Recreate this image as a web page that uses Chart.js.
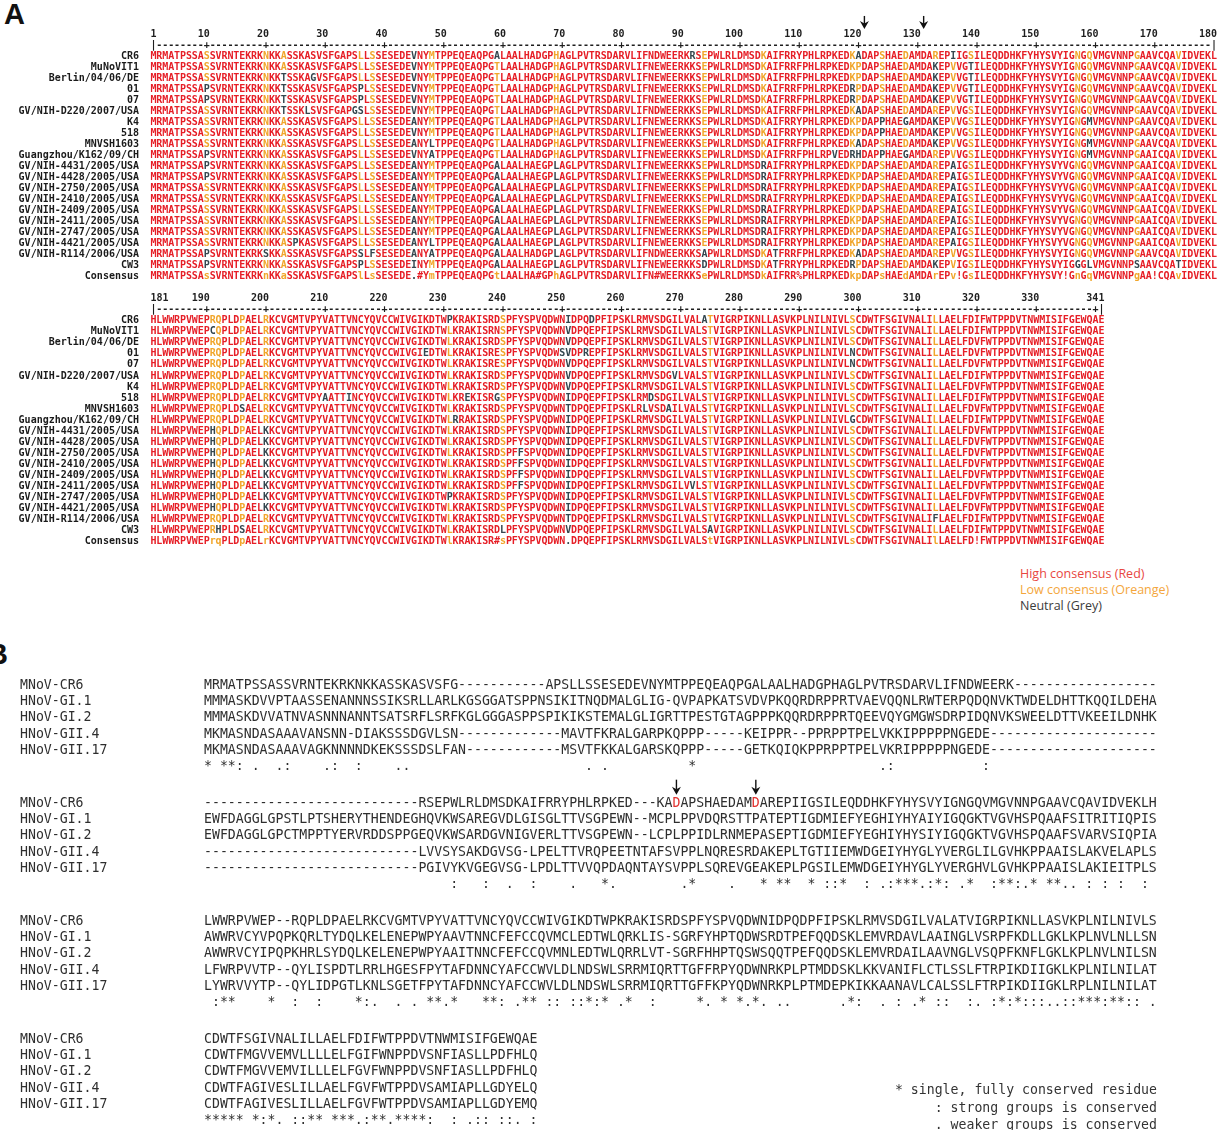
<!DOCTYPE html>
<html lang="en">
<head>
<meta charset="utf-8">
<title>NS1/2 alignment</title>
<script src="https://cdn.jsdelivr.net/npm/chart.js@4.4.1/dist/chart.umd.min.js"></script>
<style>
  html, body { margin: 0; padding: 0; background: #fff; }
  body { position: relative; width: 1225px; height: 1130px; overflow: hidden; }
  canvas { position: absolute; left: 0; }
  .panel { position: absolute; font: bold 29px "Liberation Sans", Arial, sans-serif; line-height: 29px; color: #111; }
  #legendA { position: absolute; left: 1020px; top: 566px; font: 12.5px "Open Sans", sans-serif; line-height: 16px; white-space: nowrap; }
  #legendB { position: absolute; right: 68px; top: 1081px; font: 13.2px "DejaVu Sans Mono", monospace; line-height: 17.5px; color: #333; text-align: right; white-space: pre; }
</style>
</head>
<body>
<div class="panel" style="left:4px;top:0">A</div>
<canvas id="alignA" width="1225" height="560" style="top:0"></canvas>
<div id="legendA">
  <div style="color:#e8473f">High consensus (Red)</div>
  <div style="color:#f4a63c">Low consensus (Oreange)</div>
  <div style="color:#3c3c3c">Neutral (Grey)</div>
</div>
<div class="panel" style="left:-13px;top:640px">B</div>
<canvas id="blockB0" width="1225" height="130"></canvas>
<canvas id="blockB1" width="1225" height="130"></canvas>
<canvas id="blockB2" width="1225" height="130"></canvas>
<canvas id="blockB3" width="1225" height="130"></canvas>
<div id="legendB">* single, fully conserved residue
: strong groups is conserved
. weaker groups is conserved</div>

<script>
// ---------- Panel A data (MultAlin, positions 1-180 and 181-341) ----------
const namesA = ['CR6', 'MuNoVIT1', 'Berlin/04/06/DE', '01', '07', 'GV/NIH-D220/2007/USA', 'K4', '518',
  'MNVSH1603', 'Guangzhou/K162/09/CH', 'GV/NIH-4431/2005/USA', 'GV/NIH-4428/2005/USA',
  'GV/NIH-2750/2005/USA', 'GV/NIH-2410/2005/USA', 'GV/NIH-2409/2005/USA', 'GV/NIH-2411/2005/USA',
  'GV/NIH-2747/2005/USA', 'GV/NIH-4421/2005/USA', 'GV/NIH-R114/2006/USA', 'CW3', 'Consensus'];

const seqA = [
  ['MRMATPSSAS SVRNTEKRKN KKASSKASVS FGAPSLLSSE SEDEVNYMTP PEQEAQPGAL AALHADGPHA GLPVTRSDAR VLIFNDWEER KRSEPWLRLD MSDKAIFRRY PHLRPKEDKA DAPSHAEDAM DAREPIIGSI LEQDDHKFYH YSVYIGNGQV MGVNNPGAAV CQAVIDVEKL',
   'HLWWRPVWEP RQPLDPAELR KCVGMTVPYV ATTVNCYQVC CWIVGIKDTW PKRAKISRDS PFYSPVQDWN IDPQDPFIPS KLRMVSDGIL VALATVIGRP IKNLLASVKP LNILNIVLSC DWTFSGIVNA LILLAELFDI FWTPPDVTNW MISIFGEWQA E'],
  ['MRMATPSSAS SVRNTEKRKN KKASSKASVS FGAPSLLSSE SEDEVNYMTP PEQEAQPGTL AALHADGPHA GLPVTRSDAR VLIFNEWEER KKSEPWLRLD MSDKAIFRRF PHLRPKEDKP DAPSHAEDAM DAKEPVVGTI LEQDDHKFYH YSVYIGNGQV MGVNNPGAAV CQAVIDVEKL',
   'HLWWRPVWEP CQPLDPAELR KCVGMTVPYV ATTVNCYQVC CWIVGIKDTW LKRAKISRNS PFYSPVQDWN VDPQEPFIPS KLRMVSDGIL VALSTVIGRP IKNLLASVKP LNILNIVLSC DWTFSGIVNA LILLAELFDI FWTPPDVTNW MISIFGEWQA E'],
  ['MRMATPSSAS SVRNTEKRKN KKTSSKAGVS FGAPSLLSSE SEDEVNYMTP PEQEAQPGTL AALHADGPHA GLPVTRSDAR VLIFNEWEER KKSEPWLRLD MSDKAIFRRF PHLRPKEDKP DAPSHAEDAM DAKEPVVGTI LEQDDHKFYH YSVYIGNGQV MGVNNPGAAV CQAVIDVEKL',
   'HLWWRPVWEP RQPLDPAELR KCVGMTVPYV ATTVNCYQVC CWIVGIKDTW LKRAKISRDS PFYSPVQDWN VDPQEPFIPS KLRMVSDGIL VALSTVIGRP IKNLLASVKP LNILNIVLSC DWTFSGIVNA LILLAELFDV FWTPPDVTNW MISIFGEWQA E'],
  ['MRMATPSSAP SVRNTEKRKN KKTSSKASVS FGAPSPLSSE SEDEVNYMTP PEQEAQPGTL AALHADGPHA GLPVTRSDAR VLIFNEWEER KKSEPWLRLD MSDKAIFRRF PHLRPKEDRP DAPSHAEDAM DAKEPVVGTI LEQDDHKFYH YSVYIGNGQV MGVNNPGAAV CQAVIDVEKL',
   'HLWWRPVWEP RQPLDPAELR KCVGMTVPYV ATTVNCYQVC CWIVGIEDTW LKRAKISRES PFYSPVQDWS VDPREPFIPS KLRMVSDGIL VALSTVIGRP IKNLLASVKP LNILNIVLNC DWTFSGIVNA LILLAELFDV FWTPPDVTNW MISIFGEWQA E'],
  ['MRMATPSSAP SVRNTEKRKN KKTSSKASVS FGAPSPLSSE SEDEVNYMTP PEQEAQPGTL AALHADGPHA GLPVTRSDAR VLIFNEWEER KKSEPWLRLD MSDKAIFRRF PHLRPKEDRP DAPSHAEDAM DAKEPVVGTI LEQDDHKFYH YSVYIGNGQV MGVNNPGAAV CQAVIDVEKL',
   'HLWWRPVWEP RQPLDPAELR KCVGMTVPYV ATTVNCYQVC CWIVGIKDTW LKRAKISRES PFYSPVQDWN VDPQEPFIPS KLRMVSDGIL VALSTVIGRP IKNLLASVKP LNILNIVLNC DWTFSGIVNA LILLAELFDV FWTPPDVTNW MISIFGEWQA E'],
  ['MRMATPSSAS SVRNTEKRKN KKTSSKLSVS FGAPGSLSSE SEDEVNYMTP PEQEAQPGTL AALHADGPHA GLPVTRSDAR VLIFNDWEER KKSEPWLRLD MSDKAIFRRF PHLRPKEDKA DAPSHAEDAM DAREPVVGSI LEQDDHKFYH YSVYIGNGQV MGVNNPGAAV CQAVIDVEKL',
   'HLWWRPVWEP RQPLDPAELR KCVGMTVPYV ATTVNCYQVC CWIVGIKDTW LKRAKISRDS PFYSPVQDWN VDPQEPFIPS KLRMVSDGVL VALSTVIGRP IKNLLASVKP LNILNIVLSC DWTFSGIVNA LILLAELFDI FWTPPDVTNW MISIFGEWQA E'],
  ['MRMATPSSAS SVRNTEKRKN KKASSKASVS FGAPSLLSSE SEDEANYMTP PEQEAQPGTL AALHADGPHA GLPVTRSDAR VLIFNEWEER KKSEPWLRLD MSDKAIFRRY PHLRPKEDKP DAPPHAEGAM DAKEPVVGSI LEQDDHKFYH YSVYIGNGMV MGVNNPGAAV CQAVIDVEKL',
   'HLWWRPVWEP RQPLDPAELR KCVGMTVPYV ATTVNCYQVC CWIVGIKDTW LKRAKISRDS PFYSPVQDWN VDPQEPFIPS KLRMVSDGIL VALSTVIGRP IKNLLASVKP LNILNIVLSC DWTFSGIVNA LILLAELFDV FWTPPDVTNW MISIFGEWQA E'],
  ['MRMATPSSAS SVRNTEKRKN KKASSKASVS FGAPSLLSSE SEDEVNYMTP PEQEAQPGTL AALHADGPHA GLPVTRSDAR VLIFNEWEER KKSEPWLRLD MSDKAIFRRY PHLRPKEDKP DAPPHAEDAM DAKEPVVGSI LEQDDHKFYH YSVYIGNGQV MGVNNPGAAV CQAVIDVEKL',
   'HLWWRPVWEP RQPLDPAELR KCVGMTVPYA ATTINCYQVC CWIVGIKDTW LKREKISRGS PFYSPVQDWN IDPQEPFIPS KLRMDSDGIL VALSTVIGRP IKNLLASVKP LNILNIVLSC DWTFSGIVNA LILLAELFDI FWTPPDVTNW MISIFGEWQA E'],
  ['MRMATPSSAS SVRNTEKRKN KKASSKASVS FGAPSLLSSE SEDEANYLTP PEQEAQPGTL AALHADGPHA GLPVTRSDAR VLIFNEWEER KKSEPWLRLD MSDKAIFRRF PHLRPKEDKA DAPSHAEDAM DAKEPVVGSI LEQDDHKFYH YSVYIGNGMV MGVNNPGAAV CQAVIDVEKL',
   'HLWWRPVWEP RQPLDSAELR KCVGMTVPYV ATTVNCYQVC CWIVGIKDTW LKRAKISRDS PFYSPVQDWN TDPQEPFIPS KLRLVSDAIL VALSTVIGRP IKNLLASVKP LNILNIVLSC DWTFSGIVNA LILLAELFDV FWTPPDVTNW MISIFGEWQA E'],
  ['MRMATPSSAP SVRNTEKRKN KKASSKASVS FGAPSLLSSE SEDEVNYATP PEQEAQPGTL AALHADGPHA GLPVTRSDAR VLIFNEWEER KKSEPWLRLD MSDKAIFRRF PHLRPVEDRH DAPPHAEGAM DAREPVVGSI LEQDDHKFYH YSVYIGNGMV MGVNNPGAAI CQAVIDVEKL',
   'HLWWRPVWEP RQPLDPAELR KCVGMTVPYV ATTVNCYQVC CWIVGIKDTW LRRAKISRDS PFYSPVQDWN IDPQEPFIPS KLRMVSDGIL VALSTVIGRP IKNLLASVKP LNILNIVLGC DWTFSGIVNA LILLAELFDI FWTPPDVTNW MISIFGEWQA E'],
  ['MRMATPSSAP SVRNTEKRKN KKASSKASVS FGAPSLLSSE SEDEANYMTP PEQEAQPGAL AALHAEGPLA GLPVTRSDAR VLIFNEWEER KKSEPWLRLD MSDRAIFRRY PHLRPKEDKP DAPSHAEDAM DAREPAIGSI LEQDDHKFYH YSVYVGNGQV MGVNNPGAAI CQAVIDVEKL',
   'HLWWRPVWEP HQPLDPAELK KCVGMTVPYV ATTVNCYQVC CWIVGIKDTW LKRAKISRDS PFYSPVQDWN IDPQEPFIPS KLRMVSDGIL VALSTVIGRP IKNLLASVKP LNILNIVLSC DWTFSGIVNA LILLAELFDV FWTPPDVTNW MISIFGEWQA E'],
  ['MRMATPSSAP SVRNTEKRKN KKASSKASVS FGAPSLLSSE SEDEANYMTP PEQEAQPGAL AALHAEGPLA GLPVTRSDAR VLIFNEWEER KKSEPWLRLD MSDRAIFRRY PHLRPKEDKP DAPSHAEDAM DAREPAIGSI LEQDDHKFYH YSVYVGNGQV MGVNNPGAAI CQAVIDVEKL',
   'HLWWRPVWEP HQPLDPAELK KCVGMTVPYV ATTVNCYQVC CWIVGIKDTW LKRAKISRDS PFYSPVQDWN IDPQEPFIPS KLRMVSDGIL VALSTVIGRP IKNLLASVKP LNILNIVLSC DWTFSGIVNA LILLAELFDV FWTPPDVTNW MISIFGEWQA E'],
  ['MRMATPSSAS SVRNTEKRKN KKASSKASVS FGAPSLLSSE SEDEANYMTP PEQEAQPGAL AALHAEGPLA GLPVTRSDAR VLIFNEWEER KKSEPWLRLD MSDRAIFRRY PHLRPKEDKP DAPSHAEDAM DAREPAIGSI LEQDDHKFYH YSVYVGNGQV MGVNNPGAAI CQAVIDVEKL',
   'HLWWRPVWEP HQPLDPAELK KCVGMTVPYV ATTVNCYQVC CWIVGIKDTW LKRAKISRDS PFFSPVQDWN IDPQEPFIPS KLRMVSDGIL VALSTVIGRP IKNLLASVKP LNILNIVLSC DWTFSGIVNA LILLAELFDV FWTPPDVTNW MISIFGEWQA E'],
  ['MRMATPSSAS SVRNTEKRKN KKASSKASVS FGAPSLLSSE SEDEANYMTP PEQEAQPGAL AALHAEGPLA GLPVTRSDAR VLIFNEWEER KKSEPWLRLD MSDRAIFRRY PHLRPKEDKP DAPSHAEDAM DAREPAIGSI LEQDDHKFYH YSVYVGNGQV MGVNNPGAAI CQAVIDVEKL',
   'HLWWRPVWEP HQPLDPAELK KCVGMTVPYV ATTVNCYQVC CWIVGIKDTW LKRAKISRDS PFFSPVQDWN IDPQEPFIPS KLRMVSDGIL VALSTVIGRP IKNLLASVKP LNILNIVLSC DWTFSGIVNA LILLAELFDV FWTPPDVTNW MISIFGEWQA E'],
  ['MRMATPSSAS SVRNTEKRKN KKASSKASVS FGAPSLLSSE SEDEANYMTP PEQEAQPGAL AALHAEGPLA GLPVTRSDAR VLIFNEWEER KKSEPWLRLD MSDRAIFRRY PHLRPKEDKP DAPSHAEDAM DAREPAIGSI LEQDDHKFYH YSVYVGNGQV MGVNNPGAAI CQAVIDVEKL',
   'HLWWRPVWEP HQPLDPAELK KCVGMTVPYV ATTVNCYQVC CWIVGIKDTW LKRAKISRDS PFFSPVQDWN IDPQEPFIPS KLRMVSDGIL VALSTVIGRP IKNLLASVKP LNILNIVLSC DWTFSGIVNA LILLAELFDV FWTPPDVTNW MISIFGEWQA E'],
  ['MRMATPSSAS SVRNTEKRKN KKASSKASVS FGAPSLLSSE SEDEANYMTP PEQEAQPGAL AALHAEGPLA GLPVTRSDAR VLIFNEWEER KKSEPWLRLD MSDRAIFRRY PHLRPKEDKP DAPSHAEDAM DAREPAIGSI LEQDDHKFYH YSVYVGNGQV MGVNNPGAAI CQAVIDVEKL',
   'HLWWRPVWEP HQPLDPAELK KCVGMTVPYV ATTVNCYQVC CWIVGIKDTW LKRAKISRDS PFFSPVQDWN IDPQEPFIPS KLRMVSDGIL VVLSTVIGRP IKNLLASVKP LNILNIVLSC DWTFSGIVNA LILLAELFDV FWTPPDVTNW MISIFGEWQA E'],
  ['MRMATPSSAS SVRNTEKRKN KKASSKASVS FGAPSLLSSE SEDEANYMTP PEQEAQPGAL AALHAEGPLA GLPVTRSDAR VLIFNEWEER KKSEPWLRLD MSDRAIFRRY PHLRPKEDKP DAPSHAEDAM DAREPAIGSI LEQDDHKFYH YSVYVGNGQV MGVNNPGAAI CQAVIDVEKL',
   'HLWWRPVWEP HQPLDPAELK KCVGMTVPYV ATTVNCYQVC CWIVGIKDTW PKRAKISRDS PFYSPVQDWN IDPQEPFIPS KLRMVSDGIL VALSTVIGRP IKNLLASVKP LNILNIVLSC DWTFSGIVNA LILLAELFDV FWTPPDVTNW MISIFGEWQA E'],
  ['MRMATPSSAS SVRNTEKRKN KKASPKASVS FGAPSLLSSE SEDEANYLTP PEQEAQPGAL AALHAEGPLA GLPVTRSDAR VLIFNEWEER KKSEPWLRLD MSDRAIFRRY PHLRPKEDKP DAPSHAEDAM DAREPAIGSI LEQDDHKFYH YSVYVGNGQV MGVNNPGAAI CQAVIDVEKL',
   'HLWWRPVWEP HQPLDPAELK KCVGMTVPYV ATTVNCYQVC CWIVGIKDTW LKRAKISRDS PFYSPVQDWN IDPQEPFIPS KLRMVSDGIL VALSTVIGRP IKNLLASVKP LNILNIVLSC DWTFSGIVNA LILLAELFDV FWTPPDVTNW MISIFGEWQA E'],
  ['MRMATPSSAP SVRNTEKRKS KKASSKASVS FGAPSSLFSE SEDEANYATP PEQEAQPGAL AALHADGPLA GLPVTRSDAR VLIFNDWEER KKSAPWLRLD MSDKATFRRF PHLRPKEDKA DAPSHAEDAM DAREPVVGSI LEQDDHKFYH YSVYIGNGQV MGVNNPGAAV CQAVIDVEKL',
   'HLWWRPVWEP RQPLDPAELR KCVGMTVPYV ATTVNCYQVC CWIVGIKDTW LKRAKISRDS PFYSPVQDWN TDPQEPFIPS KLRMVSDGIL VALSTVIGRP IKNLLASVKP LNILNIVLSC DWTFSGIVNA LIFLAELFDI FWTPPDVTNW MISIFGEWQA E'],
  ['MRMATPSSAP SVRNTEKRKN KKASSKASVS FGAPSPLSSE SEDEINYMTP PEQEAQPGAL AALHAEGPLA GLPVTRSDAR VLIFNEWEER KKSDPWLRLD MSDKATFRRY PHLRPKEDRP DAPSHAEDAM DAKEPVIGSI LEQDDHKFYH YSVYIGGGLV MGVNNPSAAV CQATIDVEKL',
   'HLWWRPVWEP RHPLDSAELR KCVGMTVPYV ATTVNCYQVC CWIVGIKDTW LKRAKISRDL PFYSPVQDWN VDPQEPFIPS KLRMVSDGIL VALSAVIGRP IKNLLASVKP LNILNIVLSC DWTFSGIVNA LILLAELFDI FWTPPDVTNW MISIFGEWQA E']
];

// upper case = high consensus, lower case = low consensus, ! $ % # = symbol groups, . = none
const consA = [
  'MRMATPSSAs SVRNTEKRKn KKaSSKASVS FGAPSlLsSE SEDE.#YmTP PEQEAQPGtL AALHA#GPhA GLPVTRSDAR VLIFN#WEER KKSePWLRLD MSDkAIFRR% PHLRPKEDkp DAPsHAEdAM DArEPv!GsI LEQDDHKFYH YSVY!GnGqV MGVNNPgAA! CQAvIDVEKL',
  'HLWWRPVWEP rqPLDpAELr KCVGMTVPYV ATTVNCYQVC CWIVGIKDTW lKRAKISR#s PFYSPVQDWN .DPQEPFIPS KLRMVSDGIL VALStVIGRP IKNLLASVKP LNILNIVLsC DWTFSGIVNA LIlLAELFD! FWTPPDVTNW MISIFGEWQA E'
];

const ticksA1 = [1, 10, 20, 30, 40, 50, 60, 70, 80, 90, 100, 110, 120, 130, 140, 150, 160, 170, 180];
const ticksA2 = [181, 190, 200, 210, 220, 230, 240, 250, 260, 270, 280, 290, 300, 310, 320, 330, 341];
const arrowsA = [121, 131];

// ---------- Panel B data (Clustal, 4 blocks of 120 columns) ----------
const namesB = ['MNoV-CR6', 'HNoV-GI.1', 'HNoV-GI.2', 'HNoV-GII.4', 'HNoV-GII.17'];

const seqB = [
  ['MRMATPSSAS SVRNTEKRKN KKASSKASVS FG-------- ---APSLLSS ESEDEVNYMT PPEQEAQPGA LAALHADGPH AGLPVTRSDA RVLIFNDWEE RK-------- ----------',
   'MMMASKDVVP TAASSENANN NSSIKSRLLA RLKGSGGATS PPNSIKITNQ DMALGLIG-Q VPAPKATSVD VPKQQRDRPP RTVAEVQQNL RWTERPQDQN VKTWDELDHT TKQQILDEHA',
   'MMMASKDVVA TNVASNNNAN NTSATSRFLS RFKGLGGGAS PPSPIKIKST EMALGLIGRT TPESTGTAGP PPKQQRDRPP RTQEEVQYGM GWSDRPIDQN VKSWEELDTT VKEEILDNHK',
   'MKMASNDASA AAVANSNN-D IAKSSSDGVL SN-------- -----MAVTF KRALGARPKQ PPP-----KE IPPR--PPRP PTPELVKKIP PPPPNGEDE- ---------- ----------',
   'MKMASNDASA AAVAGKNNNN DKEKSSSDSL FAN------- -----MSVTF KKALGARSKQ PPP-----GE TKQIQKPPRP PTPELVKRIP PPPPNGEDE- ---------- ----------'],
  ['---------- ---------- -------RSE PWLRLDMSDK AIFRRYPHLR PKED---KAD APSHAEDAMD AREPIIGSIL EQDDHKFYHY SVYIGNGQVM GVNNPGAAVC QAVIDVEKLH',
   'EWFDAGGLGP STLPTSHERY THENDEGHQV KWSAREGVDL GISGLTTVSG PEWN--MCPL PPVDQRSTTP ATEPTIGDMI EFYEGHIYHY AIYIGQGKTV GVHSPQAAFS ITRITIQPIS',
   'EWFDAGGLGP CTMPPTYERV RDDSPPGEQV KWSARDGVNI GVERLTTVSG PEWN--LCPL PPIDLRNMEP ASEPTIGDMI EFYEGHIYHY SIYIGQGKTV GVHSPQAAFS VARVSIQPIA',
   '---------- ---------- -------LVV SYSAKDGVSG -LPELTTVRQ PEETNTAFSV PPLNQRESRD AKEPLTGTII EMWDGEIYHY GLYVERGLIL GVHKPPAAIS LAKVELAPLS',
   '---------- ---------- -------PGI VYKVGEGVSG -LPDLTTVVQ PDAQNTAYSV PPLSQREVGE AKEPLPGSIL EMWDGEIYHY GLYVERGHVL GVHKPPAAIS LAKIEITPLS'],
  ['LWWRPVWEP- -RQPLDPAEL RKCVGMTVPY VATTVNCYQV CCWIVGIKDT WPKRAKISRD SPFYSPVQDW NIDPQDPFIP SKLRMVSDGI LVALATVIGR PIKNLLASVK PLNILNIVLS',
   'AWWRVCYVPQ PKQRLTYDQL KELENEPWPY AAVTNNCFEF CCQVMCLEDT WLQRKLIS-S GRFYHPTQDW SRDTPEFQQD SKLEMVRDAV LAAINGLVSR PFKDLLGKLK PLNVLNLLSN',
   'AWWRVCYIPQ PKHRLSYDQL KELENEPWPY AAITNNCFEF CCQVMNLEDT WLQRRLVT-S GRFHHPTQSW SQQTPEFQQD SKLEMVRDAI LAAVNGLVSQ PFKNFLGKLK PLNVLNILSN',
   'LFWRPVVTP- -QYLISPDTL RRLHGESFPY TAFDNNCYAF CCWVLDLNDS WLSRRMIQRT TGFFRPYQDW NRKPLPTMDD SKLKKVANIF LCTLSSLFTR PIKDIIGKLK PLNILNILAT',
   'LYWRVVYTP- -QYLIDPGTL KNLSGETFPY TAFDNNCYAF CCWVLDLNDS WLSRRMIQRT TGFFKPYQDW NRKPLPTMDE PKIKKAANAV LCALSSLFTR PIKDIIGKLR PLNILNILAT'],
  ['CDWTFSGIVN ALILLAELFD IFWTPPDVTN WMISIFGEWQ AE',
   'CDWTFMGVVE MVLLLLELFG IFWNPPDVSN FIASLLPDFH LQ',
   'CDWTFMGVVE MVILLLELFG VFWNPPDVSN FIASLLPDFH LQ',
   'CDWTFAGIVE SLILLAELFG VFWTPPDVSA MIAPLLGDYE LQ',
   'CDWTFAGIVE SLILLAELFG VFWTPPDVSA MIAPLLGDYE MQ']
];

// conservation marks per block: column + symbol
const consB = [
  '1*,3*,4*,5:,7.,10.,11:,16.,17:,20:,25.,26.,49.,51.,62*,86.,87:,99:',
  '32:,36:,39.,42:,47.,51*,52.,61.,62*,67.,71*,73*,74*,77*,79:,80:,81*,84:,86.,87:,88*,89*,90*,91.,92:,93*,94:,96.,97*,100:,101*,102*,103:,104.,105*,107*,108*,109.,110.,112:,114:,116:,119:',
  '2:,3*,4*,9*,12:,15:,20*,21:,22.,25.,27.,29*,30*,31.,32*,36*,37*,38:,40.,41*,42*,44:,45:,47:,48:,49*,50:,51*,53.,54*,57:,63*,64.,66*,68*,69.,70*,71.,73.,74.,81.,82*,83:,86.,88:,90.,91*,93:,94:,97:,98.,100:,101*,102:,103*,104:,105:,106:,107.,108.,109:,110:,111*,112*,113*,114:,115*,116*,117:,118:,120.',
  '1*,2*,3*,4*,5*,7*,8:,9*,10.,12:,13:,14*,15*,17*,18*,19*,20.,21:,22*,23*,24.,25*,26*,27*,28*,29:,32:,34.,35:,36:,38:,39:,40.,42:'
];
const arrowsB = [60, 70];   // block 2, MNoV-CR6 residues marked in red

// ---------- styling ----------
const RED = '#e61e26', ORANGE = '#f1a62b', GREY = '#34464e', INK = '#2e2e2e', RED_B = '#e2312e';
const GROUPS = { '!': 'IV', '$': 'LM', '%': 'FY', '#': 'NDQEBZ' };
const clean = s => s.replace(/ /g, '');

function residueColor(ch, k) {
  if (k >= 'A' && k <= 'Z') return ch === k ? RED : GREY;
  if (k >= 'a' && k <= 'z') return ch === k.toUpperCase() ? ORANGE : GREY;
  if (GROUPS[k] && GROUPS[k].includes(ch)) return RED;
  return GREY;
}
function consColor(k) {
  if (k >= 'a' && k <= 'z') return ORANGE;
  if (k === '.') return GREY;
  return RED;
}

// draws each data point as its residue letter at the position the scales give it
const residueText = {
  id: 'residueText',
  afterDatasetsDraw(chart, args, opts) {
    const ctx = chart.ctx;
    ctx.save();
    ctx.font = opts.font;
    ctx.textAlign = 'center';
    ctx.textBaseline = 'middle';
    chart.data.datasets.forEach((ds, i) => {
      chart.getDatasetMeta(i).data.forEach((el, j) => {
        const d = ds.data[j];
        if (d.ch === ' ') return;
        ctx.fillStyle = d.c;
        ctx.fillText(d.ch, el.x, el.y);
      });
    });
    ctx.restore();
  }
};

function drawArrow(ctx, px, top, tip) {
  ctx.strokeStyle = '#111';
  ctx.fillStyle = '#111';
  ctx.lineWidth = 1.4;
  ctx.beginPath();
  ctx.moveTo(px, top);
  ctx.lineTo(px, tip - 5);
  ctx.stroke();
  ctx.beginPath();
  ctx.moveTo(px - 4.5, tip - 8);
  ctx.lineTo(px, tip - 5.5);
  ctx.lineTo(px + 4.5, tip - 8);
  ctx.lineTo(px, tip);
  ctx.closePath();
  ctx.fill();
}

// ---------- Panel A chart ----------
const GAP_A = 24;   // block 2 starts 24 rows below block 1
const labelsA = namesA.concat(['', '', ''], namesA);
const consA1 = clean(consA[0]), consA2 = clean(consA[1]);
const datasetsA = [];
seqA.concat([consA]).forEach((pair, r) => {
  const isCons = r === seqA.length;
  [clean(pair[0]), clean(pair[1])].forEach((s, b) => {
    const k = b === 0 ? consA1 : consA2;
    const pts = [];
    for (let i = 0; i < s.length; i++) {
      pts.push({ x: i + 1, y: r + b * GAP_A, ch: s[i], c: isCons ? consColor(k[i]) : residueColor(s[i], k[i]) });
    }
    datasetsA.push({ data: pts, pointRadius: 0, showLine: false });
  });
});

const rulerA = {
  id: 'rulerA',
  afterDraw(chart) {
    const { ctx, scales: { x, y } } = chart;
    ctx.save();
    ctx.fillStyle = '#1e1e1e';
    ctx.font = 'bold 10px "DejaVu Sans Mono"';
    ctx.textBaseline = 'middle';
    [{ from: 1, to: 180, row: 0, ticks: ticksA1 }, { from: 181, to: 341, row: GAP_A, ticks: ticksA2 }].forEach(blk => {
      const yNum = y.getPixelForValue(blk.row - 2);
      const yRule = y.getPixelForValue(blk.row - 1);
      ctx.textAlign = 'center';
      for (let n = blk.from; n <= blk.to; n++) {
        const ch = (n === blk.from || n === blk.to) ? '|' : (n % 10 === 0 ? '+' : '-');
        ctx.fillText(ch, x.getPixelForValue(n - blk.from + 1), yRule);
      }
      blk.ticks.forEach((t, i) => {
        const px = x.getPixelForValue(t - blk.from + 1);
        ctx.textAlign = i === 0 ? 'left' : 'right';
        ctx.fillText(String(t), i === 0 ? px - 3 : px + 3, yNum);
      });
    });
    const tip = y.getPixelForValue(-2) - 5;
    arrowsA.forEach(n => drawArrow(ctx, x.getPixelForValue(n), tip - 13, tip));
    ctx.restore();
  }
};

new Chart(document.getElementById('alignA'), {
  type: 'scatter',
  data: { labels: labelsA, datasets: datasetsA },
  options: {
    responsive: false,
    animation: false,
    events: [],
    parsing: false,
    layout: { padding: { top: 50.5, bottom: 13.1, left: 0, right: 0 } },
    plugins: {
      legend: { display: false },
      tooltip: { enabled: false },
      residueText: { font: 'bold 10px "DejaVu Sans Mono"' }
    },
    scales: {
      x: { type: 'linear', display: false, min: -0.249, max: 181.86 },
      y: {
        type: 'category',
        labels: labelsA,
        offset: true,
        grid: { display: false, drawTicks: false },
        border: { display: false },
        ticks: { autoSkip: false, padding: 7, color: '#1a1a1a', font: { family: 'DejaVu Sans Mono', size: 10, weight: 'bold' } },
        afterFit: s => { s.width = 146; }
      }
    }
  },
  plugins: [residueText, rulerA]
});

// ---------- Panel B charts ----------
const ROW0_B = 685, STEP_B = 118, ROW_H_B = 16.86, PAD_TOP_B = 24;
const labelsB = namesB.concat(['']);

seqB.forEach((block, b) => {
  const canvas = document.getElementById('blockB' + b);
  canvas.style.top = (ROW0_B + b * STEP_B - ROW_H_B / 2 - PAD_TOP_B) + 'px';
  const datasets = block.map(clean).map((s, r) => ({
    data: Array.from(s, (ch, i) => ({ x: i + 1, y: r, ch, c: (b === 1 && r === 0 && arrowsB.includes(i + 1)) ? RED_B : INK })),
    pointRadius: 0,
    showLine: false
  }));
  datasets.push({
    data: consB[b].split(',').map(m => ({ x: parseInt(m, 10), y: 5, ch: m.slice(-1), c: INK })),
    pointRadius: 0,
    showLine: false
  });
  const arrowPlugin = {
    id: 'arrowsB',
    afterDraw(chart) {
      if (b !== 1) return;
      const { ctx, scales: { x, y } } = chart;
      const tip = y.getPixelForValue(0) - 8.5;
      ctx.save();
      arrowsB.forEach(n => drawArrow(ctx, x.getPixelForValue(n), tip - 15, tip));
      ctx.restore();
    }
  };
  new Chart(canvas, {
    type: 'scatter',
    data: { labels: labelsB, datasets },
    options: {
      responsive: false,
      animation: false,
      events: [],
      parsing: false,
      layout: { padding: { top: PAD_TOP_B, bottom: 130 - PAD_TOP_B - 6 * ROW_H_B, left: 20, right: 68.2 } },
      plugins: {
        legend: { display: false },
        tooltip: { enabled: false },
        residueText: { font: '13.2px "DejaVu Sans Mono"' }
      },
      scales: {
        x: { type: 'linear', display: false, min: 0.5, max: 120.5 },
        y: {
          type: 'category',
          labels: labelsB,
          offset: true,
          grid: { display: false, drawTicks: false },
          border: { display: false },
          ticks: { autoSkip: false, crossAlign: 'far', padding: 0, color: INK, font: { family: 'DejaVu Sans Mono', size: 13.2 } },
          afterFit: s => { s.width = 184; }
        }
      }
    },
    plugins: [residueText, arrowPlugin]
  });
});
</script>
</body>
</html>
